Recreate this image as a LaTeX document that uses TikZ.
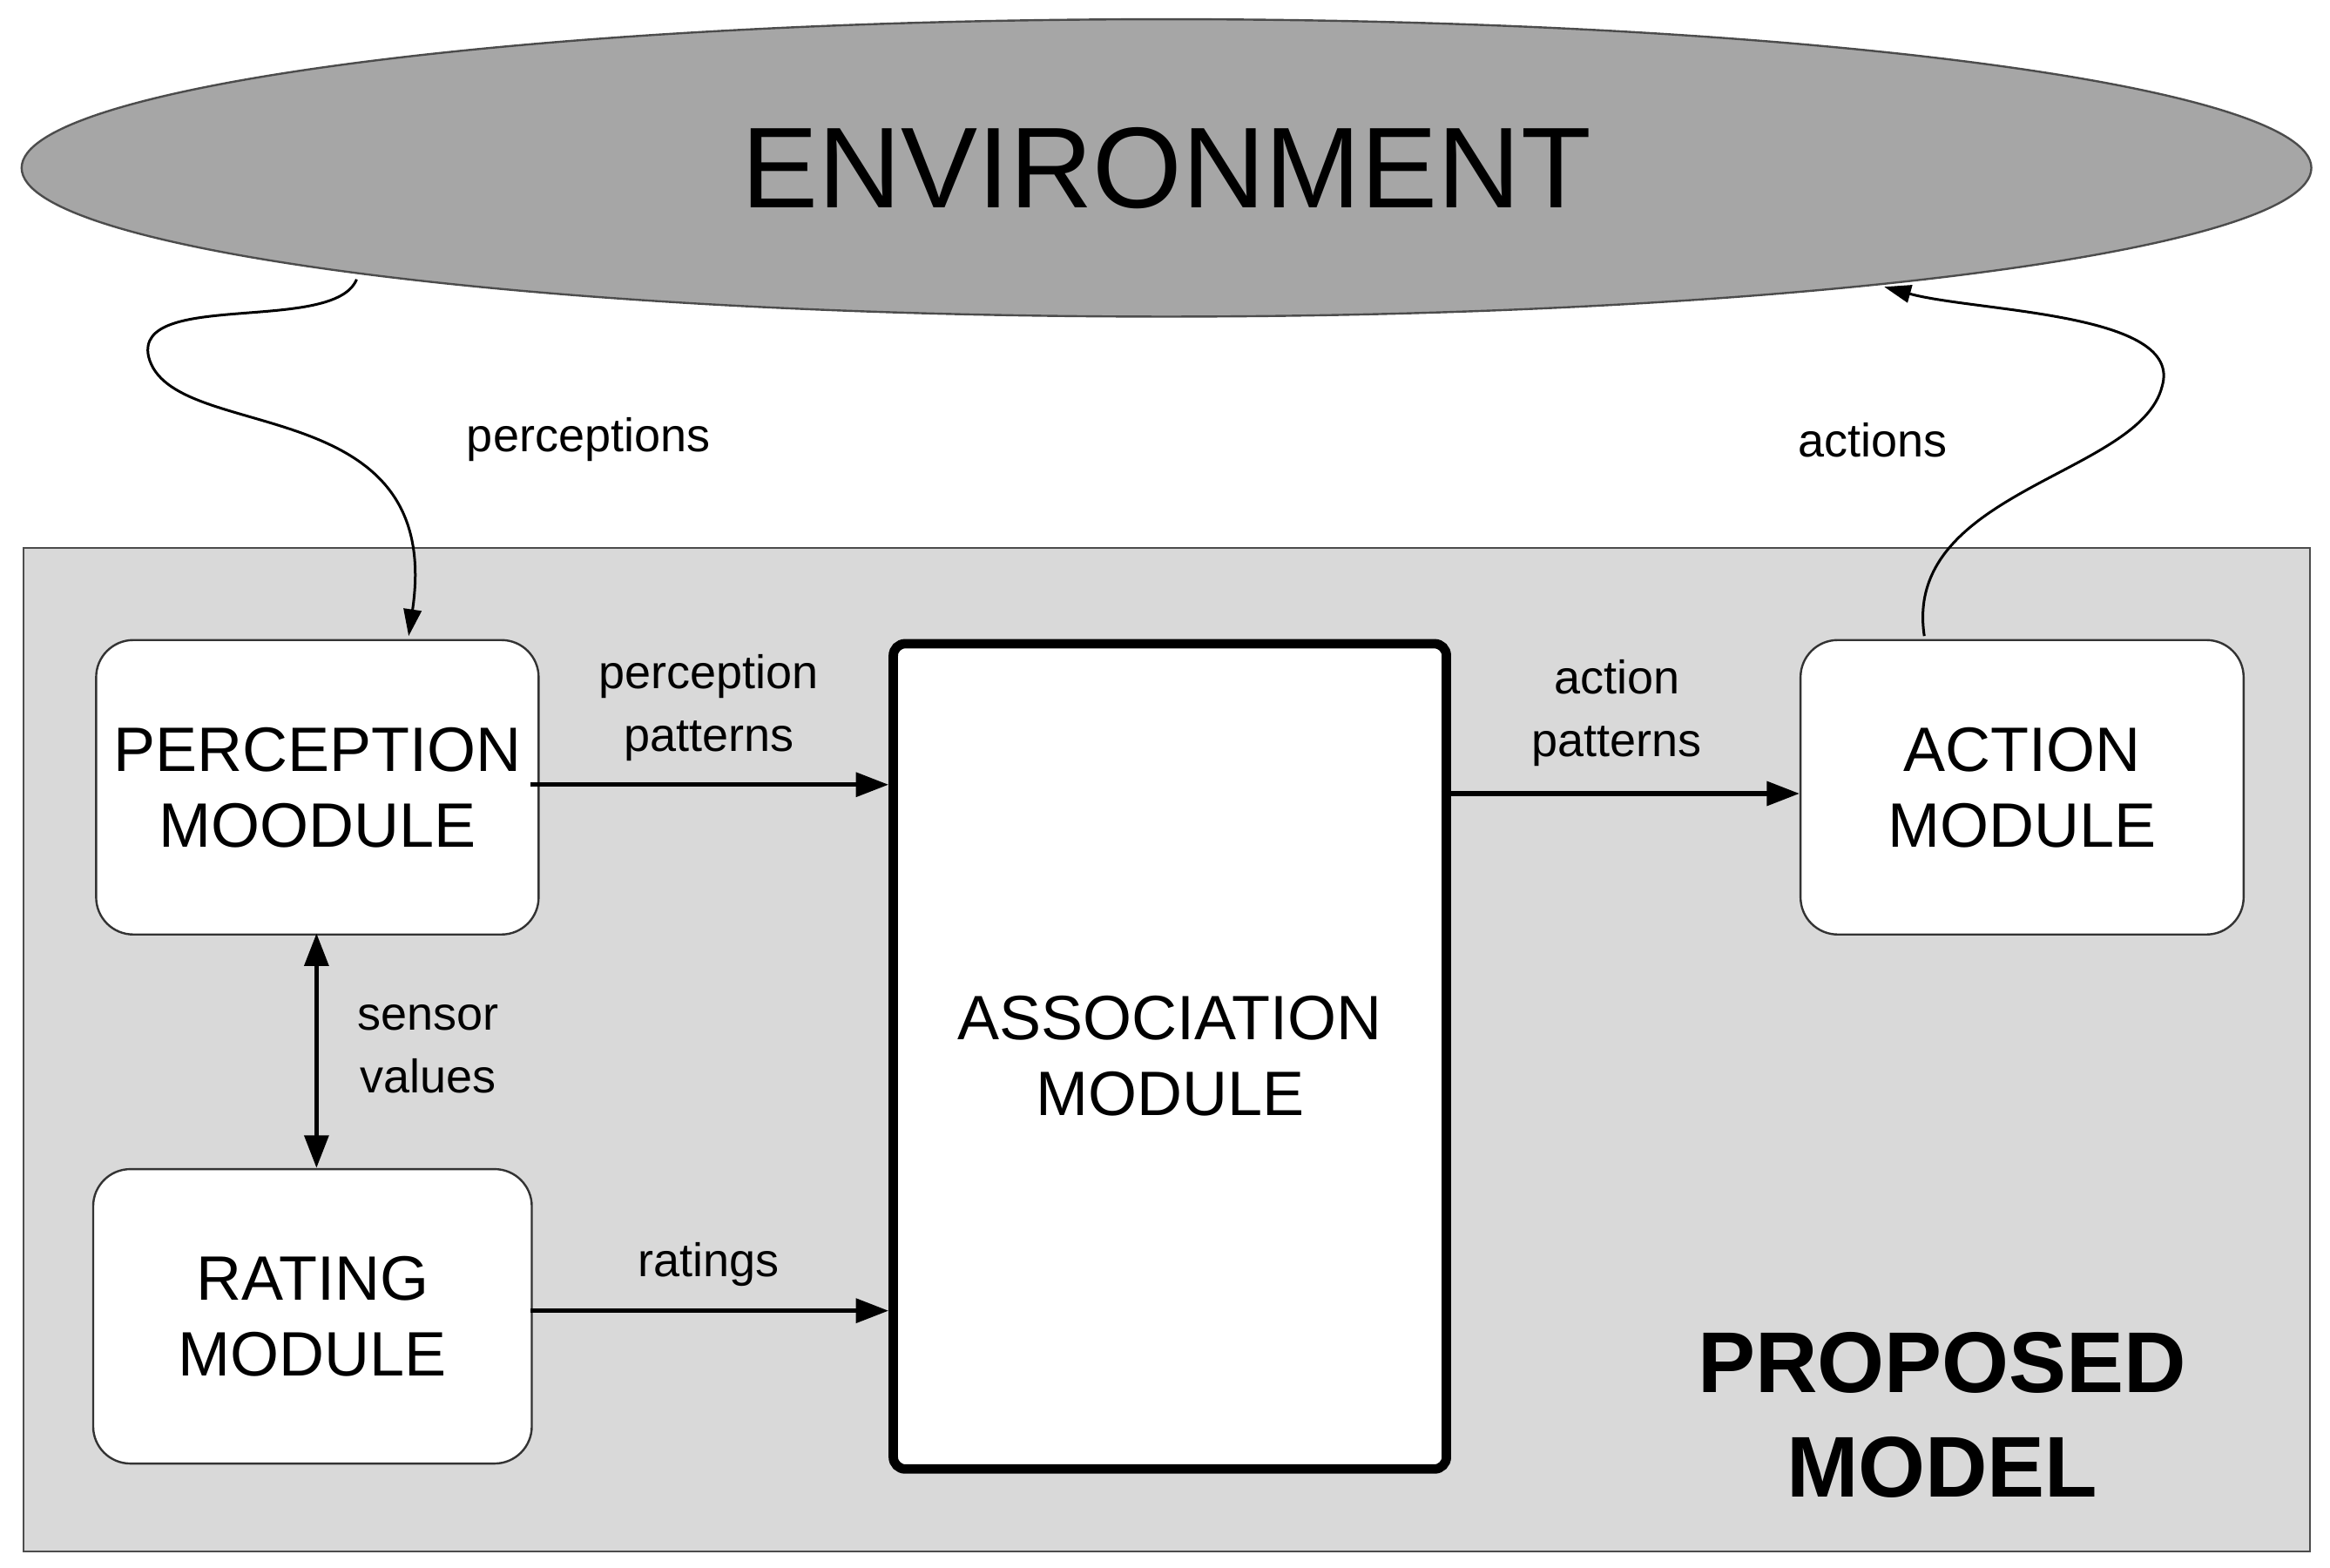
\documentclass[tikz,border=0pt]{standalone}
\usepackage{fontspec}
\setmainfont{Liberation Sans}
\usetikzlibrary{arrows.meta,shapes.geometric}
\begin{document}
\begin{tikzpicture}[x=0.01cm,y=-0.01cm,
  box/.style={draw=black!80,fill=white,rounded corners=0.25cm,align=center,font=\fontsize{12}{14.5}\selectfont},
  lbl/.style={align=center,font=\fontsize{9}{12}\selectfont},
  arr/.style={-{Triangle[length=0.22cm,width=0.16cm]},line width=0.9pt}]
\useasboundingbox (0,0) rectangle (1568,1055);
\node[ellipse,draw=black!70,fill=black!35,minimum width=15.4cm,minimum height=2cm,inner sep=0pt,font=\fontsize{22}{26}\selectfont] (env) at (785,113) {ENVIRONMENT};
\node[draw=black!70,fill=black!15,minimum width=15.38cm,minimum height=6.75cm,inner sep=0pt,anchor=north west] (pm) at (15,368) {};
\node[box,minimum width=2.93cm,minimum height=1.98cm,anchor=north west] (perc) at (64,430) {PERCEPTION\\MOODULE};
\node[box,minimum width=2.95cm,minimum height=1.98cm,anchor=north west] (rate) at (62,786) {RATING\\MODULE};
\node[box,rounded corners=0.08cm,line width=1.8pt,draw=black,minimum width=3.72cm,minimum height=5.55cm,anchor=north west] (assoc) at (598,430) {ASSOCIATION\\MODULE};
\node[box,minimum width=2.98cm,minimum height=1.98cm,anchor=north west] (act) at (1211,430) {ACTION\\MODULE};
\node[font=\fontsize{16.5}{20}\selectfont\bfseries,align=center] (pmlbl) at (1307,952) {PROPOSED\\MODEL};
\coordinate (p1) at (357,528); \coordinate (a1) at (598,528);
\coordinate (p2) at (357,882); \coordinate (a2) at (598,882);
\coordinate (p3) at (970,534); \coordinate (a3) at (1211,534);
\draw[arr] (p1) -- (a1);
\draw[arr] (p2) -- (a2);
\draw[arr] (p3) -- (a3);
\draw[{Triangle[length=0.22cm,width=0.16cm]}-{Triangle[length=0.22cm,width=0.16cm]},line width=0.9pt] (213,628) -- (213,786);
\node[lbl] (l1) at (477,476) {perception\\patterns};
\node[lbl] (l2) at (477,851) {ratings};
\node[lbl] (l3) at (1088,480) {action\\patterns};
\node[lbl] (l4) at (288,706) {sensor\\values};
\node[lbl] (l5) at (396,296) {perceptions};
\node[lbl] (l6) at (1260,296) {actions};
\coordinate (e1) at (240,188); \coordinate (t1) at (275,428);
\draw[-{Triangle[length=0.18cm,width=0.12cm]},line width=0.5pt] (e1) .. controls (225,225) and (90,195) .. (100,240) .. controls (115,300) and (300,260) .. (t1);
\coordinate (e2) at (1295,428); \coordinate (t2) at (1268,193);
\draw[-{Triangle[length=0.18cm,width=0.12cm]},line width=0.5pt] (e2) .. controls (1280,330) and (1440,320) .. (1455,260) .. controls (1470,210) and (1330,210) .. (t2);
\end{tikzpicture}
\end{document}
